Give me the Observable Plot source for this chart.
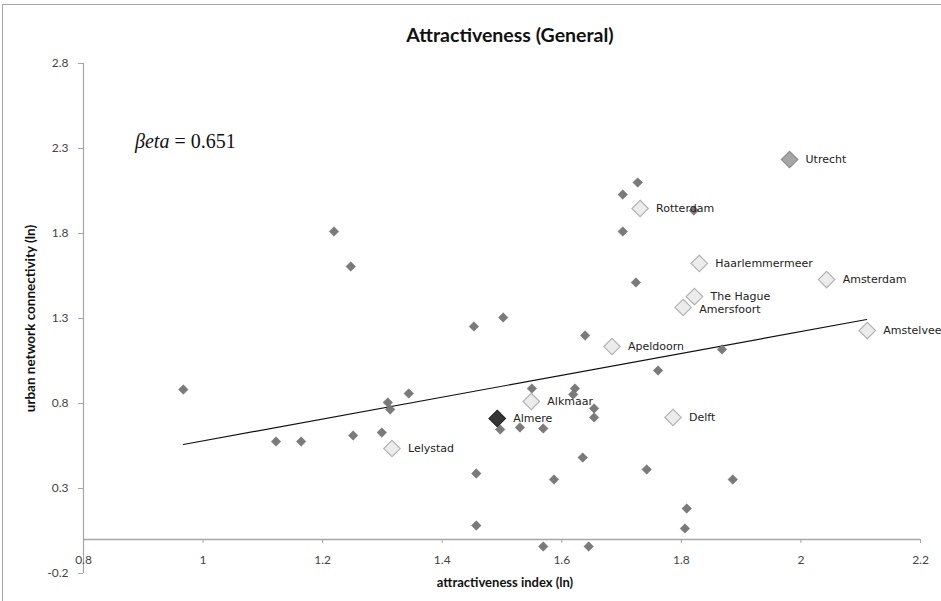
<!DOCTYPE html>
<html>
<head>
<meta charset="utf-8">
<script src="https://cdn.jsdelivr.net/npm/d3@7"></script>
<script src="https://cdn.jsdelivr.net/npm/@observablehq/plot@0.6"></script>
<style>
  html, body { margin: 0; padding: 0; background: #fff; }
  #wrap { position: relative; width: 941px; height: 601px; overflow: hidden; }
  #frame { position: absolute; left: 2px; top: 4px; width: 1200px; height: 1200px;
           border-left: 1px solid #a6a6a6; border-top: 1px solid #a6a6a6; pointer-events: none; }
  #beta { position: absolute; left: 135px; top: 130px; font-family: "Liberation Serif", "DejaVu Serif", serif;
          font-size: 20px; color: #111; white-space: nowrap; }
  #beta i { font-style: italic; }
  svg { position: absolute; left: 0; top: 0; }
</style>
</head>
<body>
<div id="wrap">
  <div id="frame"></div>
</div>
<script>
// ---- data ----
const chartTitle = ["Attractiveness (General)"];
const xTitle = ["attractiveness index (ln)"];
const yTitle = ["urban network connectivity (ln)"];
const betaLabel = ["βeta", "0.651"];

const xTicks = [0.8, 1, 1.2, 1.4, 1.6, 1.8, 2, 2.2];
const xTickLabels = ["0.8", "1", "1.2", "1.4", "1.6", "1.8", "2", "2.2"];
const yTicks = [-0.2, 0.3, 0.8, 1.3, 1.8, 2.3, 2.8];
const yTickLabels = ["-0.2", "0.3", "0.8", "1.3", "1.8", "2.3", "2.8"];

// other municipalities (small diamonds)
const otherX = [0.967, 1.122, 1.164, 1.219, 1.247, 1.251, 1.299, 1.309, 1.313, 1.344,
                1.453, 1.502, 1.457, 1.457, 1.497, 1.530, 1.550, 1.569, 1.569, 1.645,
                1.587, 1.635, 1.742, 1.886, 1.809, 1.806, 1.639, 1.622, 1.619, 1.654,
                1.654, 1.727, 1.702, 1.821, 1.702, 1.724, 1.868, 1.761];
const otherY = [0.882, 0.576, 0.576, 1.812, 1.606, 0.612, 0.629, 0.806, 0.765, 0.859,
                1.253, 1.306, 0.388, 0.082, 0.647, 0.659, 0.888, 0.653, -0.041, -0.041,
                0.353, 0.482, 0.412, 0.353, 0.182, 0.065, 1.200, 0.888, 0.853, 0.771,
                0.718, 2.100, 2.029, 1.935, 1.812, 1.512, 1.118, 0.994];

// labelled cities (large diamonds)
const cityNames = ["Utrecht", "Rotterdam", "Haarlemmermeer", "Amsterdam", "The Hague", "Amersfoort",
                   "Amstelveen", "Apeldoorn", "Alkmaar", "Delft", "Almere", "Lelystad"];
const cityX = [1.981, 1.731, 1.830, 2.043, 1.822, 1.803, 2.111, 1.684, 1.549, 1.786, 1.492, 1.316];
const cityY = [2.235, 1.947, 1.624, 1.529, 1.429, 1.365, 1.229, 1.135, 0.812, 0.718, 0.712, 0.535];

// fitted trend line end points
const trendX = [0.967, 2.110];
const trendY = [0.559, 1.294];

// ---- build ----
const others = otherX.map((x, i) => ({x, y: otherY[i]}));
const cities = cityNames.map((name, i) => ({name, x: cityX[i], y: cityY[i]}));
const trend = trendX.map((x, i) => ({x, y: trendY[i]}));

const fillOf = d => d.name === "Almere" ? "#353535" : d.name === "Utrecht" ? "#a6a6a6" : "#ececec";
const strokeOf = d => d.name === "Almere" ? "#262626" : d.name === "Utrecht" ? "#8c8c8c" : "#b3b3b3";
const labelDy = d => d.name === "Amersfoort" ? 1.5 : 0;

const tickFont = "Lato, 'Open Sans', sans-serif";

const chart = Plot.plot({
  width: 941,
  height: 601,
  marginLeft: 83,
  marginRight: 21,
  marginTop: 63,
  marginBottom: 28,
  x: {domain: [0.8, 2.2], axis: null},
  y: {domain: [-0.2, 2.8]},
  style: {background: "transparent", overflow: "visible"},
  marks: [
    // axis lines
    Plot.ruleY([0], {stroke: "#a6a6a6", strokeWidth: 1.5}),
    Plot.ruleX([0.8], {stroke: "#a6a6a6", strokeWidth: 1.2}),
    // y axis ticks + labels
    Plot.axisY({
      ticks: yTicks,
      tickSize: 5,
      tickPadding: 10,
      label: null,
      stroke: "#a6a6a6",
      tickFormat: d => yTickLabels[yTicks.indexOf(d)],
      fontFamily: tickFont,
      fontSize: 12,
      fill: "#444"
    }),
    // x axis ticks at y = 0
    Plot.ruleX(xTicks.slice(1), {x: d => d, y1: 0, y2: 0, insetBottom: -4, stroke: "#a6a6a6"}),
    Plot.text(xTicks, {x: d => d, y: 0, dy: 21, text: (d, i) => xTickLabels[i],
      fontFamily: tickFont, fontSize: 12, fill: "#444"}),
    // titles
    Plot.text(chartTitle, {frameAnchor: "top", dy: -35, dx: 8, text: d => d,
      fontFamily: tickFont, fontWeight: "bold", fontSize: 19.5, fill: "#111"}),
    Plot.text(xTitle, {frameAnchor: "bottom", dy: 13, dx: 3, text: d => d, textAnchor: "middle",
      fontFamily: tickFont, fontWeight: "bold", fontSize: 13, fill: "#111"}),
    Plot.text(yTitle, {frameAnchor: "left", dx: -53, rotate: -90, text: d => d, textAnchor: "middle",
      fontFamily: tickFont, fontWeight: "bold", fontSize: 13.5, fill: "#111"}),
    // trend line
    Plot.line(trend, {x: "x", y: "y", stroke: "#111", strokeWidth: 1.2}),
    // small diamonds
    Plot.dot(others, {x: "x", y: "y", symbol: "diamond2", r: 4.3, fill: "#7a7a7a", stroke: "#6e6e6e", strokeWidth: 0.5}),
    // labelled cities
    Plot.dot(cities, {x: "x", y: "y", symbol: "diamond2", r: 7.4, fill: fillOf, stroke: strokeOf, strokeWidth: 1.2}),
    Plot.text(cities.filter(d => d.name !== "Amersfoort"), {x: "x", y: "y", text: "name", dx: 16, textAnchor: "start",
      fontFamily: "'DejaVu Sans', Verdana, sans-serif", fontSize: 11, fill: "#222"}),
    Plot.text(cities.filter(d => d.name === "Amersfoort"), {x: "x", y: "y", text: "name", dx: 16, dy: 2, textAnchor: "start",
      fontFamily: "'DejaVu Sans', Verdana, sans-serif", fontSize: 11, fill: "#222"})
  ]
});

const wrap = document.getElementById("wrap");
wrap.appendChild(chart);
const beta = document.createElement("div");
beta.id = "beta";
beta.innerHTML = "<i>" + betaLabel[0] + "</i> = " + betaLabel[1];
wrap.appendChild(beta);
</script>
</body>
</html>
